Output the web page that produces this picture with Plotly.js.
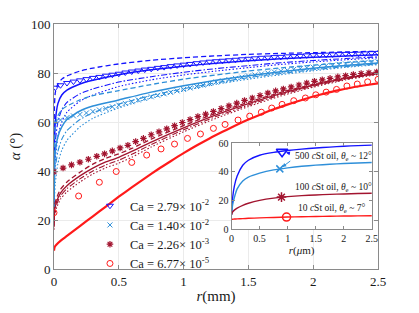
<!DOCTYPE html>
<html>
<head>
<meta charset="utf-8">
<script src="https://cdn.plot.ly/plotly-3.0.1.min.js"></script>
<style>html,body{margin:0;padding:0;background:#fff;}#chart{width:419px;height:313px;}</style>
</head>
<body>
<div id="chart"></div>
<script>
// ---------------- DATA ----------------
const legendNames = ['Ca = 2.79× 10<sup>-2</sup>', 'Ca = 1.40× 10<sup>-2</sup>', 'Ca = 2.26× 10<sup>-3</sup>', 'Ca = 6.77× 10<sup>-5</sup>'];

// experimental points, Ca = 2.79e-2 (triangles)
const rTri = [0.01,0.05,0.10,0.15,0.20,0.25,0.30,0.35,0.40,0.45,0.50,0.55,0.60,0.65,0.70,0.75,0.80,0.85,0.90,0.95,1.00,1.05,1.10,1.15,1.20,1.25,1.30,1.35,1.40,1.45,1.50,1.55,1.60,1.65,1.70,1.75,1.80,1.85,1.90,1.95,2.00,2.05,2.10,2.15,2.20,2.25,2.30,2.35,2.40,2.45,2.50];
const aTri = [74.0,75.0,75.9,76.5,77.0,77.5,78.0,78.4,78.9,79.3,79.7,80.2,80.6,81.0,81.4,81.7,82.1,82.4,82.8,83.1,83.4,83.7,84.0,84.3,84.6,84.8,85.0,85.2,85.4,85.6,85.8,86.0,86.2,86.3,86.5,86.6,86.8,86.9,87.0,87.2,87.3,87.4,87.5,87.6,87.7,87.8,87.8,87.9,88.0,88.1,88.2];

// experimental points, Ca = 1.40e-2 (crosses)
const rCross = [0.01,0.05,0.10,0.15,0.20,0.25,0.30,0.35,0.40,0.45,0.50,0.55,0.60,0.65,0.70,0.75,0.80,0.85,0.90,0.95,1.00,1.05,1.10,1.15,1.20,1.25,1.30,1.35,1.40,1.45,1.50,1.55,1.60,1.65,1.70,1.75,1.80,1.85,1.90,1.95,2.00,2.05,2.10,2.15,2.20,2.25,2.30,2.35,2.40,2.45,2.50];
const aCross = [60.0,60.8,61.8,62.5,63.1,63.7,64.3,64.9,65.5,66.2,66.9,67.6,68.3,69.0,69.6,70.3,70.9,71.5,72.1,72.7,73.3,73.9,74.5,75.1,75.7,76.3,76.8,77.3,77.8,78.3,78.8,79.2,79.6,80.0,80.4,80.8,81.1,81.5,81.8,82.1,82.4,82.7,83.0,83.2,83.5,83.7,83.9,84.1,84.3,84.5,84.6];

// experimental points, Ca = 2.26e-3 (asterisks)
const rStar = [0.00,0.07,0.135,0.20,0.265,0.33,0.39,0.45,0.51,0.57,0.63,0.69,0.75,0.81,0.87,0.93,0.99,1.05,1.11,1.17,1.23,1.29,1.35,1.41,1.47,1.53,1.59,1.65,1.71,1.77,1.83,1.89,1.95,2.01,2.07,2.13,2.19,2.25,2.31,2.37,2.43,2.49];
const aStar = [39.7,41.2,42.5,43.6,44.8,46.0,47.0,48.2,49.4,50.5,52.0,53.3,54.8,56.0,57.2,58.5,59.8,61.0,62.2,63.2,64.3,65.5,66.6,67.7,68.8,69.8,70.8,71.8,72.7,73.5,74.3,75.1,75.9,76.6,77.2,77.8,78.4,78.9,79.4,79.8,80.1,80.4];

// experimental points, Ca = 6.77e-5 (circles)
const rCirc = [0.00,0.19,0.35,0.48,0.60,0.715,0.826,0.93,1.03,1.13,1.23,1.32,1.42,1.51,1.60,1.68,1.76,1.85,1.94,2.02,2.10,2.18,2.26,2.34,2.42,2.50];
const aCirc = [23.0,29.8,35.4,39.8,43.5,46.5,49.0,51.0,53.3,55.1,57.4,59.0,60.8,62.4,64.0,65.7,67.2,68.7,69.8,71.1,72.2,73.3,74.7,75.5,76.4,77.4];

// model curves, Ca = 2.79e-2 and 1.40e-2
const rModelA = [0,0.003,0.01,0.03,0.06,0.1,0.2,0.3,0.5,0.75,1.0,1.25,1.5,1.75,2.0,2.25,2.5];
const blueDash   = [35,65,72,75.5,77.5,78.8,80.8,82,83.7,85.2,86.2,87,87.6,88.0,88.3,88.6,88.9];
const blueSolid  = [30,50,60,67.5,71,73,75.5,77,79.3,81.3,82.8,84,85,85.8,86.4,86.9,87.4];
const blueDashDot= [25,42,52,60,65,68,71.5,73.5,76.3,78.5,80.3,81.8,83,84.2,85.1,85.9,86.6];
const blueDot    = [20,35,45,54,60,64,68.5,71,74.5,77.2,79.2,80.8,82.2,83.5,84.5,85.4,86.2];
const lbDash     = [30,50,58,62.5,65,66.5,69,70.8,72.8,75.3,77.5,79.2,80.8,82.1,83.2,84.2,85.1];
const lbSolid    = [25,40,48,54,58,61,64.5,66.5,69,72.2,74.8,77,78.9,80.5,81.9,83.1,84.1];
const lbDashDot  = [20,33,41,48,53,56.5,61,63.8,67.3,70.8,73.6,76,78.1,79.8,81.3,82.6,83.7];
const lbDot      = [18,28,35,43,48.5,52.5,58,61.5,65.8,69.8,72.8,75.4,77.5,79.3,80.9,82.3,83.4];

// model curves, Ca = 2.26e-3
const rModelB = [0,0.005,0.02,0.05,0.1,0.2,0.3,0.4,0.5,0.6,0.75,1.0,1.25,1.5,1.75,2.0,2.25,2.5];
const drDash    = [20,26,29,32.5,35.5,39.5,42.8,45.2,47,49.2,53,58.5,63.6,68.1,72.1,75.4,78.1,80.3];
const drSolid   = [18,24,27.5,31,34,38,41.2,43.7,45.6,48,51.8,57.6,62.9,67.5,71.6,75,77.8,80];
const drDashDot = [17,23,26.3,29.8,32.8,36.8,40,42.5,44.4,46.8,50.8,56.8,62.2,66.9,71.1,74.6,77.5,79.7];
const drDot     = [16,22,25,28.5,31.5,35.5,38.8,41.3,43.2,45.6,49.8,56,61.5,66.3,70.6,74.2,77.2,79.4];

// model curve, Ca = 6.77e-5
const rRed = [0,0.005,0.02,0.05,0.1,0.2,0.3,0.4,0.5,0.6,0.7,0.8,0.9,1.0,1.1,1.2,1.3,1.4,1.5,1.6,1.7,1.8,1.9,2.0,2.1,2.2,2.3,2.4,2.5];
const aRed = [7.5,9,10,11.5,13.5,17.5,21.5,25.5,29.5,33.3,37,40.6,44,47.3,50.4,53.3,56,58.6,61,63.2,65.3,67.1,68.8,70.4,71.8,73,74.1,75,75.8];

// inset (r in micrometres)
const rInset = [0,0.02,0.05,0.1,0.2,0.3,0.5,0.75,1.0,1.25,1.5,1.75,2.0,2.25,2.5];
const inset500a = [10,22,30,37,44.5,48,51.5,53.5,54.8,55.8,56.6,57.2,57.8,58.2,58.6];
const inset500b = [10,17,22,28,33.5,36.2,39,41.3,42.7,43.8,44.6,45.2,45.7,46.1,46.4];
const inset100  = [10,12,13.2,14.6,16.6,18,20,21.6,22.6,23.3,23.8,24.2,24.5,24.8,25];
const inset10   = [6.8,6.9,7.0,7.1,7.3,7.5,7.8,8.1,8.4,8.6,8.8,8.95,9.1,9.2,9.3];
const insetMarkR = [0.9,0.86,0.89,0.98];
const insetMarkA = [54,42,22.3,8.4];
const insetLabels = ['500 <i>c</i>St oil, <i>θ</i><sub>e</sub> ~ 12°','100 <i>c</i>St oil, <i>θ</i><sub>e</sub> ~ 10°','10 <i>c</i>St oil, <i>θ</i><sub>e</sub> ~ 7°'];

// ---------------- STYLE ----------------
const FONT = '"Liberation Serif", "Times New Roman", Times, serif';
const C_BLUE = '#1414ff', C_LB = '#2e8fd9', C_DR = '#a2142f', C_RED = '#ff1a1a';
const AX = '#8a8a8a';
const DASH = '5px,3px', DASHDOT = '6px,2px,1.5px,2px', DOT = '1.5px,2px';

const traces = [];
function line(x, y, color, dash, width, xa, ya) {
  traces.push({x: x, y: y, type: 'scatter', mode: 'lines', showlegend: false, hoverinfo: 'skip',
    xaxis: xa || 'x', yaxis: ya || 'y',
    line: {color: color, dash: dash, width: width, shape: 'spline', smoothing: 0.6}});
}
// model lines
line(rModelA, blueDot, C_BLUE, DOT, 1.1);
line(rModelA, blueDashDot, C_BLUE, DASHDOT, 1.1);
line(rModelA, blueSolid, C_BLUE, 'solid', 1.5);
line(rModelA, blueDash, C_BLUE, DASH, 1.3);
line(rModelA, lbDot, C_LB, DOT, 1.1);
line(rModelA, lbDashDot, C_LB, DASHDOT, 1.1);
line(rModelA, lbSolid, C_LB, 'solid', 1.5);
line(rModelA, lbDash, C_LB, DASH, 1.3);
line(rModelB, drDot, C_DR, DOT, 1.1);
line(rModelB, drDashDot, C_DR, DASHDOT, 1.1);
line(rModelB, drSolid, C_DR, 'solid', 1.3);
line(rModelB, drDash, C_DR, DASH, 1.3);
line(rRed, aRed, C_RED, 'solid', 2.2);

// experimental markers
function pts(x, y, name, symbol, color, size, lw) {
  traces.push({x: x, y: y, type: 'scatter', mode: 'markers', name: name, hoverinfo: 'skip',
    marker: {symbol: symbol, size: size, color: color, line: {color: color, width: lw}}});
}
pts(rTri, aTri, legendNames[0], 'triangle-down-open', C_BLUE, 6, 1);
pts(rCross, aCross, legendNames[1], 'x-thin-open', C_LB, 5, 1);
pts(rStar, aStar, legendNames[2], 'asterisk-open', C_DR, 5.5, 1.2);
pts(rCirc, aCirc, legendNames[3], 'circle-open', C_RED, 6, 1);

// inset
line(rInset, inset500a, C_BLUE, 'solid', 1.4, 'x2', 'y2');
line(rInset, inset500b, C_LB, 'solid', 1.4, 'x2', 'y2');
line(rInset, inset100, C_DR, 'solid', 1.4, 'x2', 'y2');
line(rInset, inset10, C_RED, 'solid', 1.4, 'x2', 'y2');
const insetSym = ['triangle-down-open','x-thin-open','asterisk-open','circle-open'];
const insetCol = [C_BLUE, C_LB, C_DR, C_RED];
const insetSize = [10, 7, 8, 8];
for (let i = 0; i < 4; i++) {
  traces.push({x: [insetMarkR[i]], y: [insetMarkA[i]], type: 'scatter', mode: 'markers', showlegend: false,
    hoverinfo: 'skip', xaxis: 'x2', yaxis: 'y2',
    marker: {symbol: insetSym[i], size: insetSize[i], color: insetCol[i], line: {color: insetCol[i], width: 1.5}}});
}

const tickFont = {family: FONT, size: 13, color: '#1a1a1a'};
const insetFont = {family: FONT, size: 10, color: '#1a1a1a'};
const noteFont = {family: FONT, size: 9.5, color: '#1a1a1a'};
const baseAxis = {showline: true, mirror: 'ticks', linecolor: AX, linewidth: 1, ticks: 'inside',
  ticklen: 4, tickcolor: AX, zeroline: false};

const annotations = [
  {xref: 'x2', yref: 'y2', x: 1.095, y: 50.3, text: insetLabels[0], showarrow: false, xanchor: 'left', yanchor: 'middle', font: noteFont},
  {xref: 'x2', yref: 'y2', x: 1.095, y: 29.1, text: insetLabels[1], showarrow: false, xanchor: 'left', yanchor: 'middle', font: noteFont},
  {xref: 'x2', yref: 'y2', x: 1.146, y: 14.4, text: insetLabels[2], showarrow: false, xanchor: 'left', yanchor: 'middle', font: noteFont},
  {xref: 'x2', yref: 'y2', x: insetMarkR[1], y: insetMarkA[1], text: '', showarrow: true, ax: 12, ay: -9,
    arrowhead: 2, arrowsize: 0.8, arrowwidth: 1, arrowcolor: C_LB, standoff: 3},
  {xref: 'x2', yref: 'y2', x: insetMarkR[0], y: insetMarkA[0], text: '', showarrow: true, ax: 9, ay: 2,
    arrowhead: 2, arrowsize: 0.8, arrowwidth: 1, arrowcolor: C_BLUE, standoff: 4}
];

const layout = {
  width: 419, height: 313,
  margin: {l: 54, r: 41, t: 24, b: 44},
  paper_bgcolor: '#ffffff', plot_bgcolor: '#ffffff',
  font: {family: FONT, color: '#1a1a1a'},
  showlegend: true,
  legend: {x: 0.111, y: 0.318, xanchor: 'left', yanchor: 'top', bgcolor: 'rgba(0,0,0,0)', borderwidth: 0,
    font: {family: FONT, size: 12.5, color: '#1a1a1a'}, tracegroupgap: 0, itemwidth: 30},
  xaxis: Object.assign({}, baseAxis, {range: [0, 2.5], tick0: 0, dtick: 0.5, showgrid: true, gridcolor: '#ebebeb',
    tickfont: tickFont, title: {text: '<i>r</i>(mm)', font: {family: FONT, size: 15, color: '#1a1a1a'}, standoff: 2}}),
  yaxis: Object.assign({}, baseAxis, {range: [0, 100], tick0: 0, dtick: 20, showgrid: true, gridcolor: '#ebebeb',
    tickfont: tickFont, title: {text: '<i>α</i> (°)', font: {family: FONT, size: 15, color: '#1a1a1a'}, standoff: 6}}),
  xaxis2: Object.assign({}, baseAxis, {domain: [0.548, 0.981], anchor: 'y2', range: [0, 2.5], tick0: 0, dtick: 0.5,
    showgrid: false, ticklen: 3, tickfont: insetFont,
    title: {text: '<i>r</i>(<i>μ</i>m)', font: {family: FONT, size: 11, color: '#1a1a1a'}, standoff: 0}}),
  yaxis2: Object.assign({}, baseAxis, {domain: [0.163, 0.514], anchor: 'x2', range: [0, 60], tick0: 0, dtick: 20,
    showgrid: false, ticklen: 3, tickfont: insetFont}),
  annotations: annotations
};

Plotly.newPlot('chart', traces, layout, {displayModeBar: false, staticPlot: true});
</script>
</body>
</html>
